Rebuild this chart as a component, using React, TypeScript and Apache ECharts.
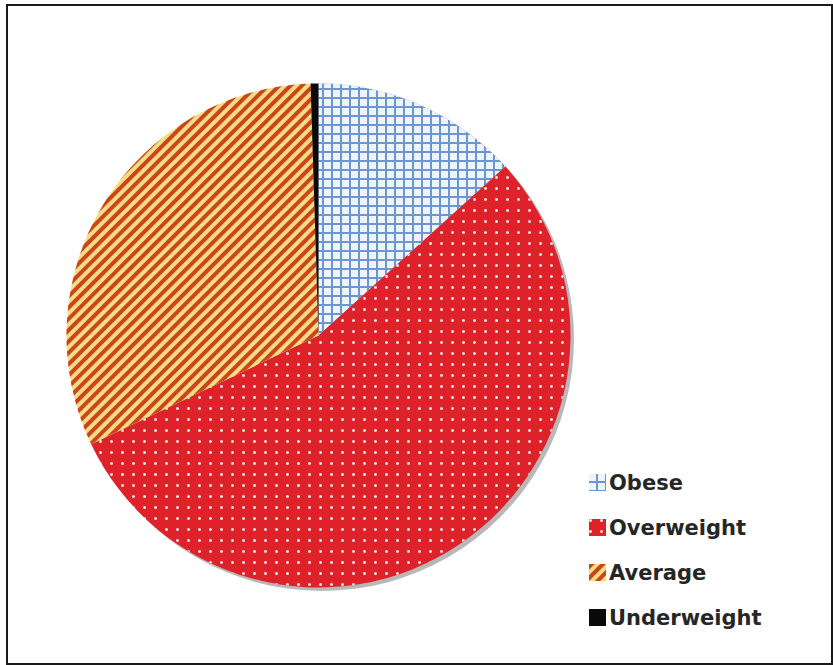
import React, { useEffect, useRef } from "react";
import * as echarts from "echarts";

const categories = ["Obese", "Overweight", "Average", "Underweight"];
const values = [13.3, 54.6, 31.6, 0.5];

const baseColors = ["#6c95d2", "#df2229", "#f8dc82", "#0a0a0a"];
const decals: any[] = [
  { symbol: "rect", symbolSize: 1, color: "#eef4fc", dashArrayX: [7, 2], dashArrayY: [7, 2] },
  { symbol: "circle", symbolSize: 1, color: "#f7e2e2", dashArrayX: [2.5, 7.5], dashArrayY: [2.5, 7.5] },
  { symbol: "rect", symbolSize: 1, color: "#c9441f", dashArrayX: [10, 0], dashArrayY: [3.7, 3.8], rotation: -Math.PI / 4 },
  null,
];

export default function App() {
  const ref = useRef<HTMLDivElement>(null);
  useEffect(() => {
    const chart = echarts.init(ref.current!, null, { renderer: "svg" });
    const data = categories.map((name, i) => ({
      name,
      value: values[i],
      itemStyle: decals[i]
        ? { color: baseColors[i], decal: decals[i] }
        : { color: baseColors[i] },
    }));
    chart.setOption({
      animation: false,
      backgroundColor: "#ffffff",
      legend: {
        data: categories,
        orient: "vertical",
        left: 584,
        top: 467,
        itemWidth: 17,
        itemHeight: 17,
        itemGap: 24,
        icon: "rect",
        textStyle: {
          fontFamily: "DejaVu Sans",
          fontWeight: "bold",
          fontSize: 21,
          color: "#262626",
          padding: [0, 0, 0, -2],
        },
      },
      graphic: [
        {
          type: "rect",
          shape: { x: 7, y: 5, width: 825, height: 659 },
          style: { fill: "none", stroke: "#1a1a1a", lineWidth: 2 },
          z: 100,
        },
      ],
      series: [
        {
          type: "pie",
          silent: true,
          center: [322, 339],
          radius: 252,
          label: { show: false },
          labelLine: { show: false },
          itemStyle: { color: "#b8b8b8" },
          data: [{ name: "shadow", value: 1 }],
          z: 1,
        },
        {
          type: "pie",
          center: [318.5, 335.5],
          radius: 252,
          startAngle: 90,
          clockwise: true,
          label: { show: false },
          labelLine: { show: false },
          emphasis: { disabled: true },
          data,
          z: 2,
        },
      ],
    });
    return () => chart.dispose();
  }, []);
  return (
    <div
      ref={ref}
      style={{ position: "absolute", left: 0, top: 0, width: 833, height: 665 }}
    />
  );
}
